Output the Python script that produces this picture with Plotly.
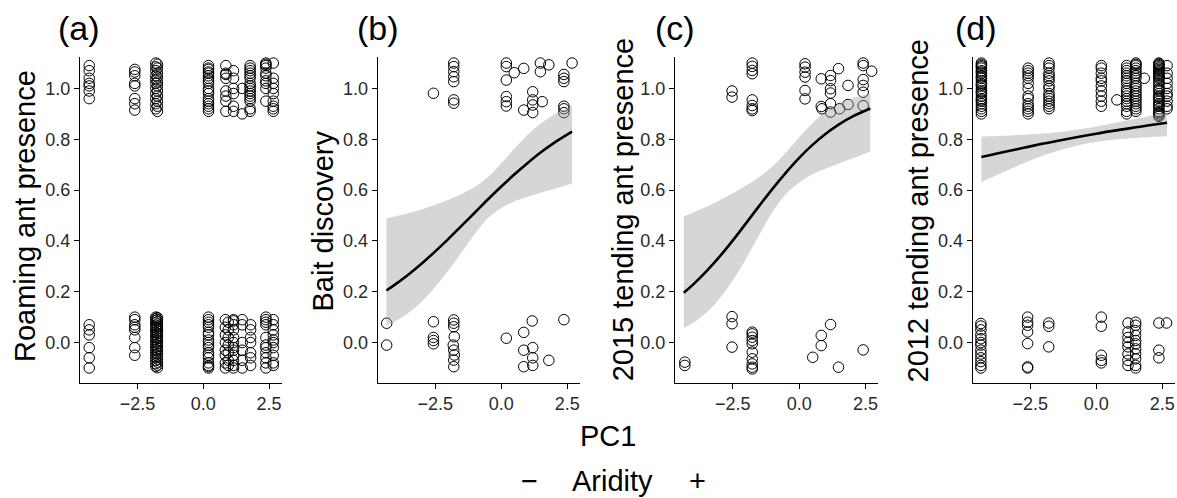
import plotly.graph_objects as go

W, H = 1177, 498
FONT = "Liberation Sans, Arial, sans-serif"

# ---------------- Panel (a): roaming ant presence (site x, jittered y) ----------------
a_top_sites = [-4.33, -2.60, -1.80, -1.74, 0.20, 0.86, 1.15, 1.48, 1.78, 2.38, 2.66]
a_top_vals = [
    [1.09, 1.07, 1.04, 1.02, 1.01, 0.99, 0.96],
    [1.075, 1.065, 1.05, 1.02, 1.01, 0.96, 0.94, 0.915],
    [1.10, 1.085, 1.07, 1.05, 1.035, 1.02, 1.0, 0.98, 0.96, 0.94, 0.92],
    [1.095, 1.08, 1.06, 1.045, 1.025, 1.01, 0.99, 0.97, 0.95, 0.93, 0.91],
    [1.09, 1.08, 1.075, 1.065, 1.06, 1.05, 1.04, 1.03, 1.02, 1.0, 0.99, 0.98, 0.96, 0.95, 0.94, 0.93, 0.92, 0.91],
    [1.09, 1.06, 1.055, 1.04, 0.99, 0.97, 0.95, 0.91],
    [1.07, 1.04, 1.0, 0.98, 0.93, 0.91],
    [1.0, 0.9],
    [1.09, 1.08, 1.07, 1.06, 1.05, 1.04, 1.02, 1.01, 1.0, 0.99, 0.98, 0.97, 0.96, 0.95, 0.92, 0.91],
    [1.10, 1.095, 1.09, 1.08, 1.06, 1.05, 1.03, 1.02, 1.0, 0.95],
    [1.10, 1.04, 1.02, 1.0, 0.98, 0.95, 0.93, 0.92, 0.91],
]
a_bot_sites = [-4.33, -2.60, -1.80, -1.74, 0.20, 0.84, 0.95, 1.15, 1.48, 1.80, 2.38, 2.66]
a_bot_vals = [
    [0.07, 0.05, 0.03, -0.02, -0.06, -0.10],
    [0.10, 0.09, 0.07, 0.06, 0.05, 0.02, -0.02, -0.05],
    [0.10, 0.094, 0.087, 0.078, 0.068, 0.059, 0.05, 0.04, 0.031, 0.021, 0.012, 0.002, -0.008, -0.018, -0.028, -0.038, -0.049, -0.06, -0.071, -0.083, -0.094],
    [0.098, 0.09, 0.082, 0.073, 0.064, 0.055, 0.045, 0.036, 0.026, 0.017, 0.007, -0.003, -0.013, -0.023, -0.033, -0.043, -0.054, -0.066, -0.077, -0.089, -0.099],
    [0.10, 0.09, 0.08, 0.07, 0.06, 0.04, 0.03, 0.01, 0.0, -0.01, -0.02, -0.04, -0.05, -0.06, -0.08, -0.09, -0.095, -0.10],
    [0.09, 0.06, 0.03, 0.0, -0.03, -0.05, -0.08, -0.10],
    [0.08, 0.05, 0.02, -0.01, -0.04, -0.07, -0.09],
    [0.09, 0.085, 0.07, 0.05, 0.02, 0.0, -0.02, -0.03, -0.05, -0.07, -0.09, -0.10],
    [0.09, 0.07, 0.0, -0.03, -0.07, -0.10],
    [0.07, 0.05, 0.02, 0.0, -0.04, -0.06, -0.09],
    [0.10, 0.09, 0.08, 0.07, 0.02, -0.01, -0.02, -0.04, -0.06, -0.08, -0.10],
    [0.09, 0.07, 0.05, 0.03, 0.01, 0.0, -0.02, -0.05, -0.08, -0.09],
]

# ---------------- Panel (b): bait discovery ----------------
b_x = [-4.34, -4.34, -2.57, -1.80, -1.80, -1.80, -1.80, -1.80, -1.80, -1.80,
       0.19, 0.19, 0.19, 0.19, 0.19, 0.19, 0.49, 0.85, 0.85, 1.19, 1.19, 1.19, 1.19,
       1.48, 1.48, 1.55, 1.80, 2.37, 2.37, 2.37, 2.37, 2.37, 2.37, 2.68,
       -2.57, -2.57, -2.57, -2.57,
       -1.80, -1.80, -1.80, -1.78, -1.82, -1.80, -1.78, -1.80, -1.80,
       0.19, 0.85, 0.85, 0.85, 1.17, 1.19, 1.19, 1.19, 1.80, 2.37]
b_y = [0.076, -0.01, 0.981, 1.10, 1.086, 1.066, 1.046, 1.027, 0.955, 0.942,
       1.10, 1.086, 1.033, 0.968, 0.948, 0.931, 1.062, 1.079, 0.915, 0.987, 0.955, 0.935, 0.905,
       1.10, 1.066, 0.948, 1.093, 1.055, 1.04, 1.027, 0.93, 0.92, 0.905, 1.10,
       0.082, 0.02, 0.008, -0.005,
       0.089, 0.076, 0.062, 0.023, -0.01, -0.03, -0.049, -0.069, -0.095,
       0.017, 0.04, -0.03, -0.095, 0.085, -0.02, -0.06, -0.09, -0.07, 0.09]

# ---------------- Panel (c): 2015 tending ant presence ----------------
c_x = [-2.53, -2.53,
       -1.77, -1.77, -1.77, -1.77, -1.77, -1.77, -1.77, -1.77,
       0.22, 0.22, 0.22, 0.22, 0.22, 0.22,
       0.83, 0.83, 0.86,
       1.18, 1.18, 1.18, 1.18, 1.18, 1.18,
       1.48, 1.52, 1.84, 1.84,
       2.41, 2.41, 2.41, 2.41, 2.41, 2.41, 2.73,
       -4.31, -4.31, -2.53, -2.53, -2.53,
       -1.77, -1.77, -1.77, -1.77, -1.77, -1.77, -1.77, -1.77, -1.77, -1.77,
       0.51, 0.83, 0.83, 1.18, 1.48, 2.41]
c_y = [0.99, 0.966,
       1.10, 1.087, 1.071, 1.058, 0.955, 0.933, 0.92, 0.913,
       1.097, 1.084, 1.064, 1.045, 0.992, 0.959,
       1.038, 0.929, 0.92,
       1.051, 1.031, 0.999, 0.982, 0.94, 0.907,
       1.078, 0.92, 1.012, 0.937,
       1.10, 1.09, 1.035, 1.012, 0.985, 0.932, 1.068,
       -0.077, -0.09, 0.102, 0.074, -0.018,
       0.041, 0.034, 0.021, 0.008, -0.005, -0.038, -0.064, -0.084, -0.097, -0.104,
       -0.058, 0.028, -0.012, 0.071, -0.097, -0.029]

# ---------------- Panel (d): 2012 tending ant presence ----------------
d_top_sites = [-4.35, -2.58, -1.79, 0.19, 0.78, 1.15, 1.50, 1.82, 2.37, 2.68]
d_top_vals = [
    [1.10, 1.095, 1.09, 1.085, 1.08, 1.07, 1.065, 1.06, 1.05, 1.045, 1.04, 1.03, 1.02, 1.015,
     1.01, 1.0, 0.99, 0.985, 0.98, 0.97, 0.96, 0.955, 0.95, 0.94, 0.93, 0.92, 0.91, 0.90],
    [1.08, 1.07, 1.06, 1.05, 1.04, 1.02, 1.0, 0.97, 0.96, 0.94, 0.93, 0.92, 0.91, 0.90],
    [1.10, 1.09, 1.08, 1.06, 1.05, 1.04, 1.03, 1.01, 1.0, 0.98, 0.97, 0.96, 0.95, 0.94, 0.93, 0.92],
    [1.09, 1.08, 1.06, 1.04, 1.03, 1.01, 0.99, 0.97, 0.95, 0.93],
    [0.955],
    [1.09, 1.08, 1.07, 1.06, 1.05, 1.04, 1.03, 1.02, 1.0, 0.99, 0.98, 0.97, 0.96, 0.95, 0.94, 0.93, 0.91, 0.90],
    [1.10, 1.095, 1.09, 1.08, 1.07, 1.06, 1.05, 1.04, 1.02, 1.01, 1.0, 0.99, 0.98, 0.97, 0.96, 0.95, 0.94, 0.93, 0.92, 0.91],
    [1.04],
    [1.10, 1.097, 1.093, 1.09, 1.085, 1.08, 1.075, 1.07, 1.065, 1.06, 1.055, 1.05, 1.045, 1.04, 1.03, 1.02, 1.01,
     1.0, 0.995, 0.99, 0.98, 0.97, 0.965, 0.96, 0.95, 0.94, 0.935, 0.93, 0.92, 0.91, 0.905, 0.90, 0.895, 0.89],
    [1.09, 1.06, 1.04, 1.02, 1.0, 0.98, 0.97, 0.95, 0.93, 0.92],
]
d_bot_sites = [-4.37, -2.60, -1.80, 0.19, 1.20, 1.49, 2.37, 2.66]
d_bot_vals = [
    [0.075, 0.065, 0.05, 0.03, 0.015, 0.0, -0.01, -0.03, -0.045, -0.06, -0.075, -0.09, -0.10],
    [0.10, 0.08, 0.068, 0.042, -0.004, -0.096, -0.10],
    [0.077, 0.064, -0.017],
    [0.10, 0.064, -0.05, -0.07, -0.08],
    [0.077, 0.042, 0.02, 0.0, -0.017, -0.045, -0.07, -0.09],
    [0.08, 0.068, 0.047, 0.028, 0.008, -0.005, -0.025, -0.045, -0.064, -0.09, -0.10],
    [0.077, -0.03, -0.06],
    [0.077],
]

# ---------------- Fitted curves and 95% bands ----------------
fit_x = [-4.35, -4.0, -3.5, -3.0, -2.5, -2.0, -1.5, -1.0, -0.5, 0.0, 0.5, 1.0, 1.5, 2.0, 2.68]
b_fit = [0.205, 0.230, 0.269, 0.312, 0.359, 0.408, 0.460, 0.512, 0.564, 0.614, 0.662, 0.707, 0.749, 0.786, 0.830]
b_lo = [0.068, 0.085, 0.118, 0.163, 0.220, 0.285, 0.355, 0.428, 0.490, 0.530, 0.556, 0.574, 0.590, 0.604, 0.627]
b_hi = [0.489, 0.497, 0.510, 0.525, 0.542, 0.562, 0.585, 0.613, 0.652, 0.706, 0.764, 0.818, 0.862, 0.898, 0.935]
c_fit = [0.196, 0.228, 0.280, 0.338, 0.402, 0.470, 0.539, 0.606, 0.669, 0.727, 0.778, 0.822, 0.859, 0.889, 0.921]
c_lo = [0.057, 0.077, 0.117, 0.173, 0.245, 0.330, 0.425, 0.515, 0.585, 0.630, 0.662, 0.685, 0.705, 0.724, 0.752]
c_hi = [0.497, 0.512, 0.534, 0.560, 0.588, 0.618, 0.652, 0.694, 0.748, 0.808, 0.863, 0.908, 0.939, 0.961, 0.979]
d_fit = [0.730, 0.738, 0.750, 0.761, 0.772, 0.783, 0.793, 0.803, 0.813, 0.822, 0.831, 0.839, 0.847, 0.855, 0.865]
d_lo = [0.631, 0.648, 0.672, 0.695, 0.716, 0.736, 0.753, 0.768, 0.780, 0.789, 0.796, 0.801, 0.805, 0.808, 0.812]
d_hi = [0.811, 0.812, 0.814, 0.817, 0.820, 0.823, 0.828, 0.834, 0.841, 0.850, 0.860, 0.871, 0.881, 0.892, 0.905]

panel_tags = ["(a)", "(b)", "(c)", "(d)"]
y_titles = ["Roaming ant presence", "Bait discovery", "2015 tending ant presence", "2012 tending ant presence"]
x_tickvals = [-2.5, 0.0, 2.5]
x_ticktext = ["\u22122.5", "0.0", "2.5"]
y_tickvals = [0.0, 0.2, 0.4, 0.6, 0.8, 1.0]
y_ticktext = ["0.0", "0.2", "0.4", "0.6", "0.8", "1.0"]


def flatten(sites, vals):
    xs, ys = [], []
    for s, v in zip(sites, vals):
        xs += [s] * len(v)
        ys += list(v)
    return xs, ys


a_x1, a_y1 = flatten(a_top_sites, a_top_vals)
a_x2, a_y2 = flatten(a_bot_sites, a_bot_vals)
d_x1, d_y1 = flatten(d_top_sites, d_top_vals)
d_x2, d_y2 = flatten(d_bot_sites, d_bot_vals)

points = [
    (a_x1 + a_x2, a_y1 + a_y2),
    (b_x, b_y),
    (c_x, c_y),
    (d_x1 + d_x2, d_y1 + d_y2),
]
fits = [None, (b_fit, b_lo, b_hi), (c_fit, c_lo, c_hi), (d_fit, d_lo, d_hi)]

# pixel layout of the four plot areas
x_px = [(80, 281.7), (377.7, 580), (675, 878.3), (972.7, 1175)]
y_px = (56.7, 382.7)

fig = go.Figure()
for i in range(4):
    xa = "x" if i == 0 else f"x{i+1}"
    ya = "y" if i == 0 else f"y{i+1}"
    px_, py_ = points[i]
    fig.add_trace(go.Scatter(
        x=px_, y=py_, mode="markers", xaxis=xa, yaxis=ya, showlegend=False,
        marker=dict(symbol="circle-open", size=10.5, color="black", line=dict(width=1, color="black")),
    ))
    if fits[i] is not None:
        f, lo, hi = fits[i]
        fig.add_trace(go.Scatter(
            x=fit_x, y=lo, mode="lines", line=dict(width=0, shape="spline", color="rgba(0,0,0,0)"),
            xaxis=xa, yaxis=ya, showlegend=False, hoverinfo="skip",
        ))
        fig.add_trace(go.Scatter(
            x=fit_x, y=hi, mode="lines", fill="tonexty",
            fillcolor="rgba(153,153,153,0.4)", line=dict(width=0, shape="spline", color="rgba(0,0,0,0)"),
            xaxis=xa, yaxis=ya, showlegend=False, hoverinfo="skip",
        ))
        fig.add_trace(go.Scatter(
            x=fit_x, y=f, mode="lines", line=dict(color="black", width=2.6, shape="spline"),
            xaxis=xa, yaxis=ya, showlegend=False,
        ))

axis_common = dict(showgrid=False, zeroline=False, showline=True, linecolor="black", linewidth=1.1,
                   ticks="outside", ticklen=5, tickwidth=1.1, tickcolor="black",
                   tickfont=dict(family=FONT, size=18, color="#2a2a2a"), mirror=False)
layout = dict(
    width=W, height=H, margin=dict(l=0, r=0, t=0, b=0),
    paper_bgcolor="white", plot_bgcolor="white", showlegend=False,
)
for i in range(4):
    xk = "xaxis" if i == 0 else f"xaxis{i+1}"
    yk = "yaxis" if i == 0 else f"yaxis{i+1}"
    anchor_x = "y" if i == 0 else f"y{i+1}"
    anchor_y = "x" if i == 0 else f"x{i+1}"
    layout[xk] = dict(axis_common, domain=[x_px[i][0] / W, x_px[i][1] / W], range=[-4.68, 2.98],
                      tickvals=x_tickvals, ticktext=x_ticktext, anchor=anchor_x)
    layout[yk] = dict(axis_common, domain=[1 - y_px[1] / H, 1 - y_px[0] / H], range=[-0.158, 1.125],
                      tickvals=y_tickvals, ticktext=y_ticktext, anchor=anchor_y)
fig.update_layout(**layout)

ann = []
tag_x = [79, 378, 675, 976]
title_x = [25, 322.5, 623.3, 917.5]
title_y = [216, 221, 210, 211]
for i in range(4):
    ann.append(dict(text=panel_tags[i], x=tag_x[i] / W, y=1 - 28 / H, xref="paper", yref="paper",
                    xanchor="center", yanchor="middle", showarrow=False,
                    font=dict(family=FONT, size=34, color="black")))
    ann.append(dict(text=y_titles[i], x=title_x[i] / W, y=1 - title_y[i] / H, xref="paper", yref="paper",
                    xanchor="center", yanchor="middle", textangle=-90, showarrow=False,
                    font=dict(family=FONT, size=29, color="black")))
ann.append(dict(text="PC1", x=608 / W, y=1 - 436 / H, xref="paper", yref="paper", xanchor="center",
                yanchor="middle", showarrow=False, font=dict(family=FONT, size=29, color="black")))
for txt, xc in [("\u2212", 529.5), ("Aridity", 612.5), ("+", 697)]:
    ann.append(dict(text=txt, x=xc / W, y=1 - 481 / H, xref="paper", yref="paper", xanchor="center",
                    yanchor="middle", showarrow=False, font=dict(family=FONT, size=29, color="black")))
fig.update_layout(annotations=ann)

fig.write_html("out.html")
